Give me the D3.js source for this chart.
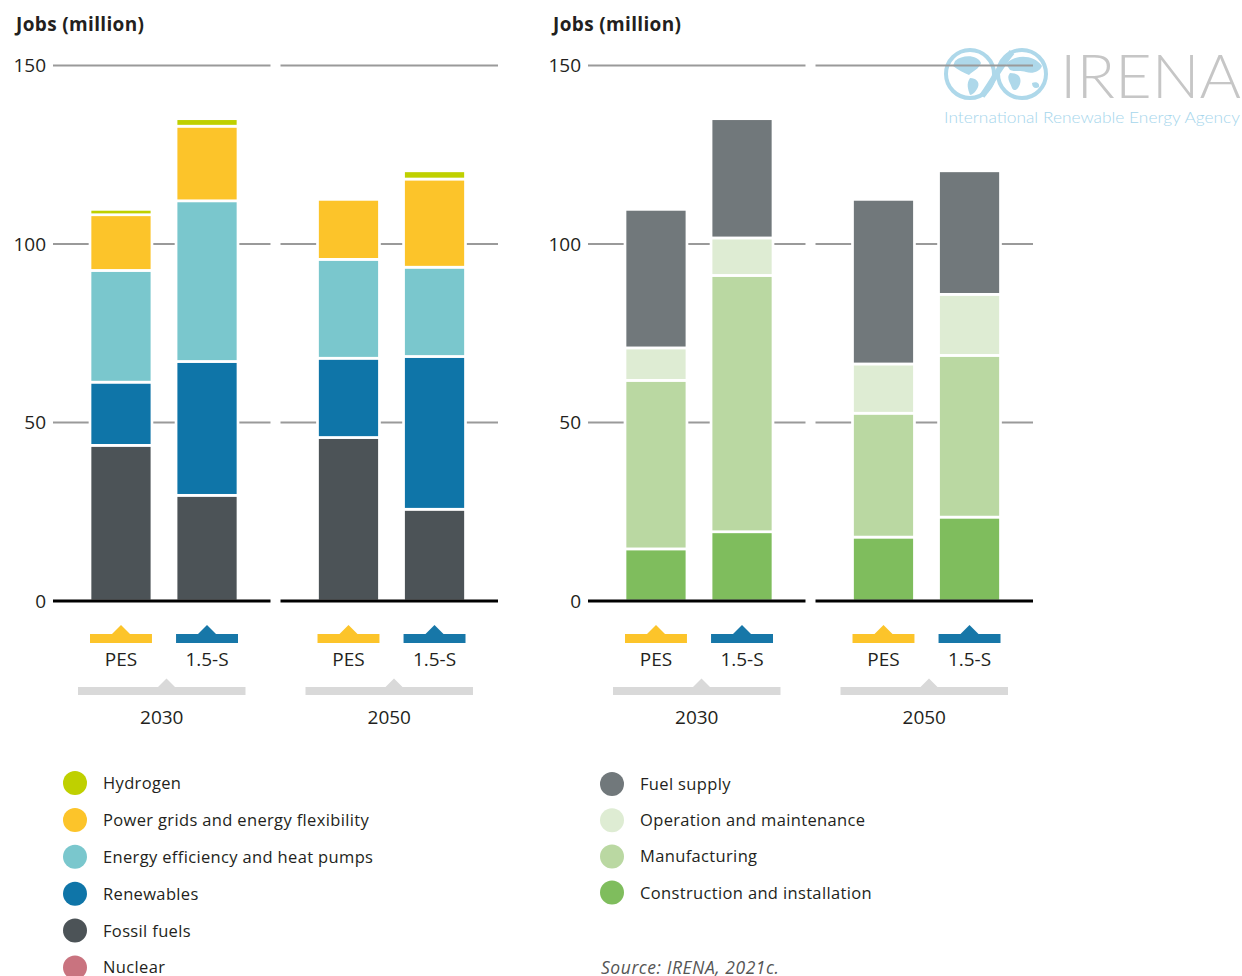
<!DOCTYPE html>
<html>
<head>
<meta charset="utf-8">
<script src="https://cdn.jsdelivr.net/npm/d3@7"></script>
<style>
  body { margin: 0; background: #fff; }
  text { font-family: "Open Sans", Lato, "DejaVu Sans", sans-serif; fill: #231f20; }
</style>
</head>
<body>
<svg id="chart" width="1242" height="976"></svg>
<script>
// ---- Data (jobs, million) ----
const years = ["2030", "2050"];
const scenarios = ["PES", "1.5-S"];
const yTicks = [0, 50, 100, 150];

// Order of values: 2030 PES, 2030 1.5-S, 2050 PES, 2050 1.5-S
const fossilFuels = [43.6, 29.6, 45.8, 25.7];
const renewables  = [17.7, 37.5, 22.2, 42.8];
const efficiency  = [31.3, 45.0, 27.7, 25.0];
const powerGrids  = [15.6, 20.9, 16.8, 24.7];
const hydrogen    = [1.5, 2.1, 0, 2.3];

const construction  = [14.6, 19.4, 17.9, 23.5];
const manufacturing = [47.2, 71.8, 34.7, 45.3];
const operation     = [9.1, 10.5, 13.8, 17.1];
const fuelSupply    = [38.8, 33.4, 46.1, 34.6];

const techNames = ["Hydrogen", "Power grids and energy flexibility", "Energy efficiency and heat pumps",
                   "Renewables", "Fossil fuels", "Nuclear"];
const techColors = ["#bfd000", "#fcc42a", "#7ac7cd", "#0f75a8", "#4c5357", "#c9737f"];

const segNames = ["Fuel supply", "Operation and maintenance", "Manufacturing", "Construction and installation"];
const segColors = ["#71787b", "#deecd3", "#bad8a2", "#7fbd5d"];

const scenarioColors = ["#fcc42a", "#1777a8"];

// ---- Build stacked tables ----
const cells = [];
years.forEach(yr => scenarios.forEach(sc => cells.push({ year: yr, scenario: sc })));

function table(seriesList, keys) {
  return cells.map((c, i) => {
    const row = { year: c.year, scenario: c.scenario };
    keys.forEach((k, j) => row[k] = seriesList[j][i]);
    return row;
  });
}

const techKeys = ["Fossil fuels", "Renewables", "Energy efficiency and heat pumps",
                  "Power grids and energy flexibility", "Hydrogen"];
const techTable = table([fossilFuels, renewables, efficiency, powerGrids, hydrogen], techKeys);

const segKeys = ["Construction and installation", "Manufacturing", "Operation and maintenance", "Fuel supply"];
const segTable = table([construction, manufacturing, operation, fuelSupply], segKeys);

const colorOf = {};
techNames.forEach((n, i) => colorOf[n] = techColors[i]);
segNames.forEach((n, i) => colorOf[n] = segColors[i]);

// ---- Scales ----
const svg = d3.select("#chart");
const y = d3.scaleLinear().domain([0, 150]).range([601, 65.5]);
const xGroup = d3.scaleBand().domain(years).range([53, 498]).paddingInner(0.044);
const xScen = d3.scaleBand().domain(scenarios).range([37, 185]).paddingInner(0.28);

const panels = [
  { dx: 0, keys: techKeys, rows: techTable, titleX: 16 },
  { dx: 535, keys: segKeys, rows: segTable, titleX: 553 }
];

// ---- Logo (drawn first, chart lines sit above it) ----
const logo = svg.append("g").attr("class", "logo");
const globeBlue = "#aed8ea";
[[970, 74], [1022, 74]].forEach(([cx, cy], gi) => {
  const g = logo.append("g").attr("transform", `translate(${cx},${cy})`);
  g.append("circle").attr("r", 24).attr("fill", "none").attr("stroke", globeBlue).attr("stroke-width", 4);
  const shapes = gi === 0
    ? ["M-15,-13 C-7,-20 8,-19 11,-11 C9,-5 3,-3 -1,1 C-6,-1 -12,-4 -17,-8 Z",
       "M0,4 C6,4 10,8 8,13 C6,18 2,21 0,21 C-2,15 -4,10 0,4 Z"]
    : ["M-16,-10 C-8,-20 12,-20 20,-8 C18,-2 10,0 4,-2 C0,-4 -8,-2 -12,-4 Z",
       "M-12,-1 C-4,-1 0,3 -2,10 C-4,16 -8,18 -10,14 C-12,8 -16,4 -12,-1 Z",
       "M10,9 C14,7 18,9 17,13 C14,15 10,14 10,9 Z"];
  shapes.forEach(d => g.append("path").attr("d", d).attr("fill", globeBlue));
});
logo.append("path")
  .attr("d", "M982,96 C990,86 1000,66 1012,52")
  .attr("fill", "none").attr("stroke", globeBlue).attr("stroke-width", 6);
logo.append("text").attr("x", 1060).attr("y", 98)
  .attr("textLength", 181).attr("lengthAdjust", "spacingAndGlyphs")
  .style("font-family", "Lato, sans-serif")
  .style("font-size", "62px").style("font-weight", 300).style("fill", "#c6c6c6")
  .text("IRENA");
logo.append("text").attr("x", 944).attr("y", 123)
  .attr("textLength", 296).attr("lengthAdjust", "spacingAndGlyphs")
  .style("font-family", "Lato, sans-serif")
  .style("font-size", "15px").style("font-weight", 300).style("fill", "#a6d6ec")
  .text("International Renewable Energy Agency");

// ---- Panels ----
panels.forEach(p => {
  const g = svg.append("g").attr("transform", `translate(${p.dx},0)`);

  g.append("text").attr("x", p.titleX - p.dx).attr("y", 31)
    .style("font-size", "19px").style("font-weight", 700).style("letter-spacing", "0.35px")
    .text("Jobs (million)");

  g.selectAll("text.tick").data(yTicks).join("text").attr("class", "tick")
    .attr("x", 46).attr("y", d => y(d)).attr("dy", "0.36em")
    .attr("text-anchor", "end").style("font-size", "19px").text(d => d);

  years.forEach(yr => {
    const gx = xGroup(yr);
    const gy = g.append("g").attr("transform", `translate(${gx},0)`);

    // gridlines
    gy.selectAll("line.grid").data(yTicks.filter(t => t > 0)).join("line").attr("class", "grid")
      .attr("x1", 0).attr("x2", xGroup.bandwidth())
      .attr("y1", d => y(d)).attr("y2", d => y(d))
      .attr("stroke", "#9a9a9a").attr("stroke-width", 1.8);

    // stacked bars
    const rows = p.rows.filter(r => r.year === yr);
    const stacked = d3.stack().keys(p.keys)(rows);
    stacked.forEach(layer => {
      gy.selectAll(null).data(layer.filter(d => d[1] - d[0] > 0)).join("rect")
        .attr("x", d => xScen(d.data.scenario))
        .attr("width", xScen.bandwidth())
        .attr("y", d => y(d[1]))
        .attr("height", d => y(d[0]) - y(d[1]))
        .attr("fill", colorOf[layer.key])
        .attr("stroke", "#fff").attr("stroke-width", 2.7);
    });

    // zero baseline
    gy.append("line").attr("x1", 0).attr("x2", xGroup.bandwidth())
      .attr("y1", y(0)).attr("y2", y(0))
      .attr("stroke", "#000").attr("stroke-width", 3);

    // scenario markers
    scenarios.forEach((sc, i) => {
      const x0 = xScen(sc), w = xScen.bandwidth(), cx = x0 + w / 2;
      gy.append("rect").attr("x", x0).attr("y", 634).attr("width", w).attr("height", 9)
        .attr("fill", scenarioColors[i]);
      gy.append("path").attr("d", `M${cx - 9},634 L${cx},625 L${cx + 9},634 Z`)
        .attr("fill", scenarioColors[i]);
      gy.append("text").attr("x", cx).attr("y", 666).attr("text-anchor", "middle")
        .style("font-size", "19px").text(sc);
    });

    // year marker
    const pairMid = (xScen.range()[0] + xScen.range()[1]) / 2;
    gy.append("rect").attr("x", 25).attr("y", 687).attr("width", 167.5).attr("height", 8)
      .attr("fill", "#d9d9d9");
    gy.append("path").attr("d", `M${pairMid + 2.5 - 8.5},687 L${pairMid + 2.5},678.5 L${pairMid + 2.5 + 8.5},687 Z`)
      .attr("fill", "#d9d9d9");
    gy.append("text").attr("x", 25 + 167.5 / 2).attr("y", 724).attr("text-anchor", "middle")
      .style("font-size", "19px").text(yr);
  });
});

// ---- Legends ----
function legend(names, colors, cx, tx, y0, step) {
  const lg = svg.append("g");
  names.forEach((n, i) => {
    const yy = y0 + i * step;
    lg.append("circle").attr("cx", cx).attr("cy", yy).attr("r", 12).attr("fill", colors[i]);
    lg.append("text").attr("x", tx).attr("y", yy).attr("dy", "0.36em")
      .style("font-size", "16.5px").style("letter-spacing", "0.35px").text(n);
  });
}
legend(techNames, techColors, 75, 103, 783, 36.9);
legend(segNames, segColors, 612, 640, 784, 36.2);

svg.append("text").attr("x", 601).attr("y", 974)
  .style("font-size", "17.5px").style("font-style", "italic").style("letter-spacing", "0.55px")
  .style("fill", "#555")
  .text("Source: IRENA, 2021c.");
</script>
</body>
</html>
